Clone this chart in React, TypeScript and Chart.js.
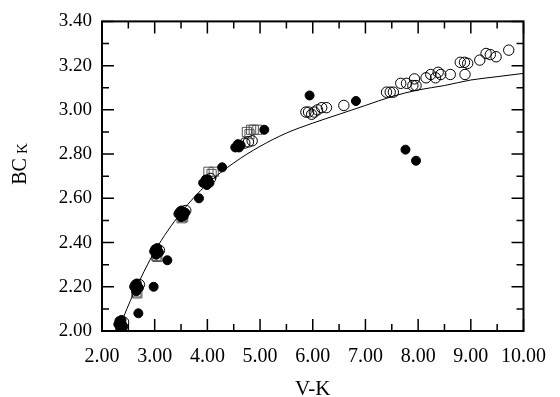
import React, { useEffect, useRef } from "react";
import { Chart, registerables } from "chart.js";

Chart.register(...registerables);

// V-K (x) vs BC_K (y)
const filledPoints: [number, number][] = [
  [2.31, 2.03], [2.37, 2.05], [2.4, 2.02], [2.35, 2.01], [2.33, 2.045], [2.38, 2.03],
  [2.61, 2.2], [2.66, 2.215], [2.7, 2.195], [2.65, 2.18], [2.63, 2.21], [2.68, 2.2],
  [2.69, 2.08],
  [2.98, 2.2],
  [2.99, 2.36], [3.05, 2.375], [3.08, 2.355], [3.03, 2.345], [3.01, 2.37], [3.06, 2.36],
  [3.24, 2.32],
  [3.45, 2.53], [3.51, 2.545], [3.55, 2.52], [3.5, 2.515], [3.58, 2.535], [3.48, 2.54],
  [3.84, 2.6],
  [3.92, 2.67], [3.97, 2.685], [4.01, 2.685], [4.04, 2.67], [3.99, 2.66], [3.95, 2.675],
  [4.28, 2.74],
  [4.53, 2.83], [4.58, 2.845], [4.63, 2.84], [4.6, 2.83],
  [5.08, 2.91],
  [5.94, 3.065],
  [6.82, 3.04],
  [7.76, 2.82],
  [7.96, 2.77],
];

const openPoints: [number, number][] = [
  [2.41, 2.04], [2.71, 2.21], [3.09, 2.365], [3.59, 2.545], [4.06, 2.69],
  [4.71, 2.85], [4.78, 2.855], [4.85, 2.86],
  [5.87, 2.99], [5.92, 2.99], [5.98, 2.98], [6.03, 2.99], [6.09, 3.0],
  [6.17, 3.01], [6.26, 3.01], [6.59, 3.02],
  [7.4, 3.08], [7.47, 3.08], [7.53, 3.08],
  [7.67, 3.12], [7.78, 3.12], [7.93, 3.14], [7.96, 3.11], [7.9, 3.11],
  [8.15, 3.145], [8.24, 3.16], [8.33, 3.145], [8.38, 3.17], [8.43, 3.16],
  [8.61, 3.16], [8.89, 3.16],
  [8.8, 3.215], [8.88, 3.215], [8.94, 3.21],
  [9.17, 3.225], [9.29, 3.255], [9.37, 3.25], [9.48, 3.24],
  [9.72, 3.27],
];

const squarePoints: [number, number][] = [
  [2.35, 2.01], [2.37, 2.005], [2.67, 2.17], [2.65, 2.175], [3.05, 2.335], [3.03, 2.34],
  [3.51, 2.51], [3.54, 2.515],
  [4.02, 2.72], [4.08, 2.71], [4.12, 2.72],
  [4.75, 2.9], [4.8, 2.89], [4.83, 2.91], [4.88, 2.91], [4.95, 2.91],
];

const fitCurve: [number, number][] = [
  [2.35, 2.03], [2.6, 2.17], [3.0, 2.36], [3.5, 2.535], [4.0, 2.665],
  [4.5, 2.76], [5.0, 2.835], [5.5, 2.895], [6.0, 2.94], [6.5, 2.98],
  [7.0, 3.02], [7.5, 3.06], [8.0, 3.09], [8.5, 3.11], [9.0, 3.135],
  [9.5, 3.15], [10.0, 3.165],
];

const xMajorTicks = [2, 3, 4, 5, 6, 7, 8, 9, 10];
const yMajorTicks = [2.0, 2.2, 2.4, 2.6, 2.8, 3.0, 3.2, 3.4];

const toXY = (arr: [number, number][]) => arr.map(([x, y]) => ({ x, y }));

const SERIF = "'Liberation Serif', 'Times New Roman', serif";

const framePlugin = {
  id: "frameTicks",
  afterDatasetsDraw(chart: any) {
    const { ctx, chartArea } = chart;
    const { left, right, top, bottom } = chartArea;
    const xs = chart.scales.x;
    const ys = chart.scales.y;
    ctx.save();
    ctx.strokeStyle = "#000";
    ctx.lineWidth = 1.5;
    ctx.beginPath();
    const majorLen = 12;
    const minorLen = 7;
    for (let i = 0; i < xMajorTicks.length; i++) {
      const v = xMajorTicks[i];
      const px = xs.getPixelForValue(v);
      ctx.moveTo(px, bottom); ctx.lineTo(px, bottom - majorLen);
      ctx.moveTo(px, top); ctx.lineTo(px, top + majorLen);
      if (i < xMajorTicks.length - 1) {
        const mx = xs.getPixelForValue(v + 0.5);
        ctx.moveTo(mx, bottom); ctx.lineTo(mx, bottom - minorLen);
        ctx.moveTo(mx, top); ctx.lineTo(mx, top + minorLen);
      }
    }
    for (let i = 0; i < yMajorTicks.length; i++) {
      const v = yMajorTicks[i];
      const py = ys.getPixelForValue(v);
      ctx.moveTo(left, py); ctx.lineTo(left + majorLen, py);
      ctx.moveTo(right, py); ctx.lineTo(right - majorLen, py);
      if (i < yMajorTicks.length - 1) {
        const my = ys.getPixelForValue(v + 0.1);
        ctx.moveTo(left, my); ctx.lineTo(left + minorLen, my);
        ctx.moveTo(right, my); ctx.lineTo(right - minorLen, my);
      }
    }
    ctx.stroke();
    ctx.lineWidth = 2;
    ctx.strokeRect(left, top, right - left, bottom - top);
    ctx.restore();

    // axis titles
    ctx.save();
    ctx.fillStyle = "#000";
    ctx.font = `21px ${SERIF}`;
    ctx.textAlign = "center";
    ctx.textBaseline = "alphabetic";
    ctx.fillText("V-K", (left + right) / 2, 395);
    // y title: BC with subscript K, rotated
    ctx.translate(26, 164);
    ctx.rotate(-Math.PI / 2);
    ctx.font = `20px ${SERIF}`;
    const w1 = ctx.measureText("BC").width;
    ctx.font = `15px ${SERIF}`;
    const w2 = ctx.measureText("K").width;
    const gap = 4;
    const total = w1 + gap + w2;
    ctx.textAlign = "left";
    ctx.font = `20px ${SERIF}`;
    ctx.fillText("BC", -total / 2, 0);
    ctx.font = `15px ${SERIF}`;
    ctx.fillText("K", -total / 2 + w1 + gap, 1);
    ctx.restore();
  },
};

export default function App() {
  const ref = useRef<HTMLCanvasElement | null>(null);
  useEffect(() => {
    document.body.style.margin = "0";
    document.body.style.overflow = "hidden";
    if (!ref.current) return;
    const chart = new Chart(ref.current, {
      type: "scatter",
      data: {
        datasets: [
          {
            type: "line" as any,
            label: "fit",
            data: toXY(fitCurve),
            showLine: true,
            pointRadius: 0,
            borderColor: "#000",
            borderWidth: 1,
            tension: 0.4,
            cubicInterpolationMode: "monotone",
            fill: false,
          } as any,
          {
            label: "filled",
            data: toXY(filledPoints),
            pointStyle: "circle",
            pointRadius: 4.5,
            borderColor: "#000",
            backgroundColor: "#000",
            borderWidth: 1,
          },
          {
            label: "open",
            data: toXY(openPoints),
            pointStyle: "circle",
            pointRadius: 5.2,
            borderColor: "#000",
            backgroundColor: "rgba(255,255,255,0)",
            borderWidth: 1,
          },
          {
            label: "squares",
            data: toXY(squarePoints),
            pointStyle: "rect",
            pointRadius: 6.5,
            borderColor: "#555",
            backgroundColor: "rgba(255,255,255,0)",
            borderWidth: 1,
          },
        ],
      },
      options: {
        animation: false,
        responsive: false,
        events: [],
        layout: { padding: { top: 12, right: 27, left: 0, bottom: 0 } },
        plugins: {
          legend: { display: false },
          tooltip: { enabled: false },
        },
        scales: {
          x: {
            type: "linear",
            min: 2,
            max: 10,
            grid: { display: false, drawTicks: false },
            border: { display: false },
            ticks: {
              stepSize: 1,
              padding: 14,
              color: "#000",
              font: { family: SERIF, size: 20 },
              callback: (v: any) => Number(v).toFixed(2),
            },
            afterFit: (s: any) => { s.height = 66; },
          },
          y: {
            type: "linear",
            min: 2,
            max: 3.4,
            grid: { display: false, drawTicks: false },
            border: { display: false },
            ticks: {
              stepSize: 0.2,
              padding: 10,
              color: "#000",
              font: { family: SERIF, size: 19 },
              callback: (v: any) => Number(v).toFixed(2),
            },
            afterFit: (s: any) => { s.width = 102; },
          },
        },
      },
      plugins: [framePlugin],
    });
    return () => chart.destroy();
  }, []);
  return (
    <div style={{ width: 560, height: 397, background: "#fff" }}>
      <canvas ref={ref} width={560} height={397} style={{ display: "block" }} />
    </div>
  );
}
